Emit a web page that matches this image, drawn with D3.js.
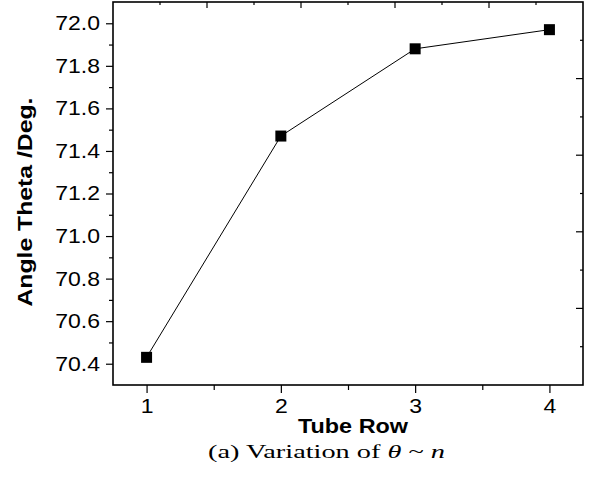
<!DOCTYPE html>
<html>
<head>
<meta charset="utf-8">
<script src="https://cdn.jsdelivr.net/npm/d3@7"></script>
<style>
    body { margin: 0; background: #fff; }
    text { font-family: "Liberation Sans", Arial, sans-serif; fill: #000; }
</style>
</head>
<body>
<script>
// chart data
var tubeRows = [1, 2, 3, 4];
var thetaValues = [70.43, 71.47, 71.88, 71.97];
var xTickValues = [1, 2, 3, 4];
var xMinorValues = [1.5, 2.5, 3.5];
var yTickValues = [70.4, 70.6, 70.8, 71.0, 71.2, 71.4, 71.6, 71.8, 72.0];
var yMinorValues = [70.5, 70.7, 70.9, 71.1, 71.3, 71.5, 71.7, 71.9];
var frameTicks = d3.range(1, 10); // inner ticks on top / right frame

window.onload = drawChart();

function drawChart() {
    var width = 589,
        height = 485;
    var left = 113, right = 583, top = 2, bottom = 385;

    var svg = d3.select("body")
        .append("svg")
        .attr("width", width)
        .attr("height", height);

    var x = d3.scaleLinear().domain([0.75, 4.25]).range([left, right]);
    var y = d3.scaleLinear().domain([70.3, 72.1]).range([bottom, top]);
    var xf = d3.scaleLinear().domain([0, 10]).range([left, right]);
    var yf = d3.scaleLinear().domain([0, 10]).range([bottom, top]);

    // bottom axis, major + minor
    svg.append("g")
        .attr("class", "x-axis")
        .attr("transform", "translate(0," + bottom + ")")
        .call(d3.axisBottom(x).tickValues(xTickValues).tickSize(8).tickPadding(6)
            .tickFormat(d3.format("d")))
        .call(function(g) { g.select(".domain").remove(); });
    svg.append("g")
        .attr("transform", "translate(0," + bottom + ")")
        .call(d3.axisBottom(x).tickValues(xMinorValues).tickSize(5).tickFormat(""))
        .call(function(g) { g.select(".domain").remove(); });

    // left axis, major + minor
    svg.append("g")
        .attr("class", "y-axis")
        .attr("transform", "translate(" + left + ",0)")
        .call(d3.axisLeft(y).tickValues(yTickValues).tickSize(7).tickPadding(6)
            .tickFormat(d3.format(".1f")))
        .call(function(g) { g.select(".domain").remove(); });
    svg.append("g")
        .attr("transform", "translate(" + left + ",0)")
        .call(d3.axisLeft(y).tickValues(yMinorValues).tickSize(4).tickFormat(""))
        .call(function(g) { g.select(".domain").remove(); });

    // top and right frame ticks (inward, alternating)
    svg.append("g").selectAll("line")
        .data(frameTicks)
        .enter()
        .append("line")
        .attr("x1", function(d) { return xf(d); })
        .attr("x2", function(d) { return xf(d); })
        .attr("y1", top)
        .attr("y2", function(d) { return top + (d % 2 === 0 ? 6 : 3); })
        .attr("stroke", "#000")
        .attr("stroke-width", 1.2);
    svg.append("g").selectAll("line")
        .data(frameTicks)
        .enter()
        .append("line")
        .attr("y1", function(d) { return yf(d); })
        .attr("y2", function(d) { return yf(d); })
        .attr("x1", right)
        .attr("x2", function(d) { return right - (d % 2 === 0 ? 7 : 3); })
        .attr("stroke", "#000")
        .attr("stroke-width", 1.2);

    svg.selectAll(".tick line").attr("stroke-width", 1.2);
    svg.selectAll(".tick text")
        .style("font-size", "20px")
        .attr("fill", "#000");

    // plot frame
    svg.append("rect")
        .attr("x", left)
        .attr("y", top)
        .attr("width", right - left)
        .attr("height", bottom - top)
        .attr("fill", "none")
        .attr("stroke", "#000")
        .attr("stroke-width", 1.6);

    // data line and markers
    var pts = tubeRows.map(function(r, i) { return [r, thetaValues[i]]; });
    var line = d3.line()
        .x(function(d) { return x(d[0]); })
        .y(function(d) { return y(d[1]); });

    svg.append("path")
        .datum(pts)
        .attr("d", line)
        .attr("fill", "none")
        .attr("stroke", "#000")
        .attr("stroke-width", 1);

    var s = 11;
    svg.selectAll(".marker")
        .data(pts)
        .enter()
        .append("rect")
        .attr("class", "marker")
        .attr("x", function(d) { return x(d[0]) - s / 2; })
        .attr("y", function(d) { return y(d[1]) - s / 2; })
        .attr("width", s)
        .attr("height", s)
        .attr("fill", "#000");

    // widen tick labels a bit (reference font runs wide)
    svg.selectAll(".tick text").each(function() {
        var w = this.getComputedTextLength();
        d3.select(this).attr("textLength", w * 1.15).attr("lengthAdjust", "spacingAndGlyphs");
    });

    // axis titles
    svg.append("text")
        .attr("x", 353)
        .attr("y", 433)
        .attr("text-anchor", "middle")
        .style("font-size", "21px")
        .style("font-weight", "bold")
        .attr("textLength", 110)
        .attr("lengthAdjust", "spacingAndGlyphs")
        .text("Tube Row");

    svg.append("text")
        .attr("transform", "translate(32,202) rotate(-90)")
        .attr("text-anchor", "middle")
        .style("font-size", "21px")
        .style("font-weight", "bold")
        .attr("textLength", 209)
        .attr("lengthAdjust", "spacingAndGlyphs")
        .text("Angle Theta /Deg.");

    // caption
    var cap = svg.append("text")
        .attr("x", 208)
        .attr("y", 458)
        .style("font-family", "'Liberation Serif', 'Times New Roman', serif")
        .style("font-size", "18px")
        .attr("textLength", 237)
        .attr("lengthAdjust", "spacingAndGlyphs");
    cap.append("tspan").text("(a) Variation of ");
    cap.append("tspan").style("font-style", "italic").text("θ");
    cap.append("tspan").text(" ~ ");
    cap.append("tspan").style("font-style", "italic").text("n");
}
</script>
</body>
</html>
